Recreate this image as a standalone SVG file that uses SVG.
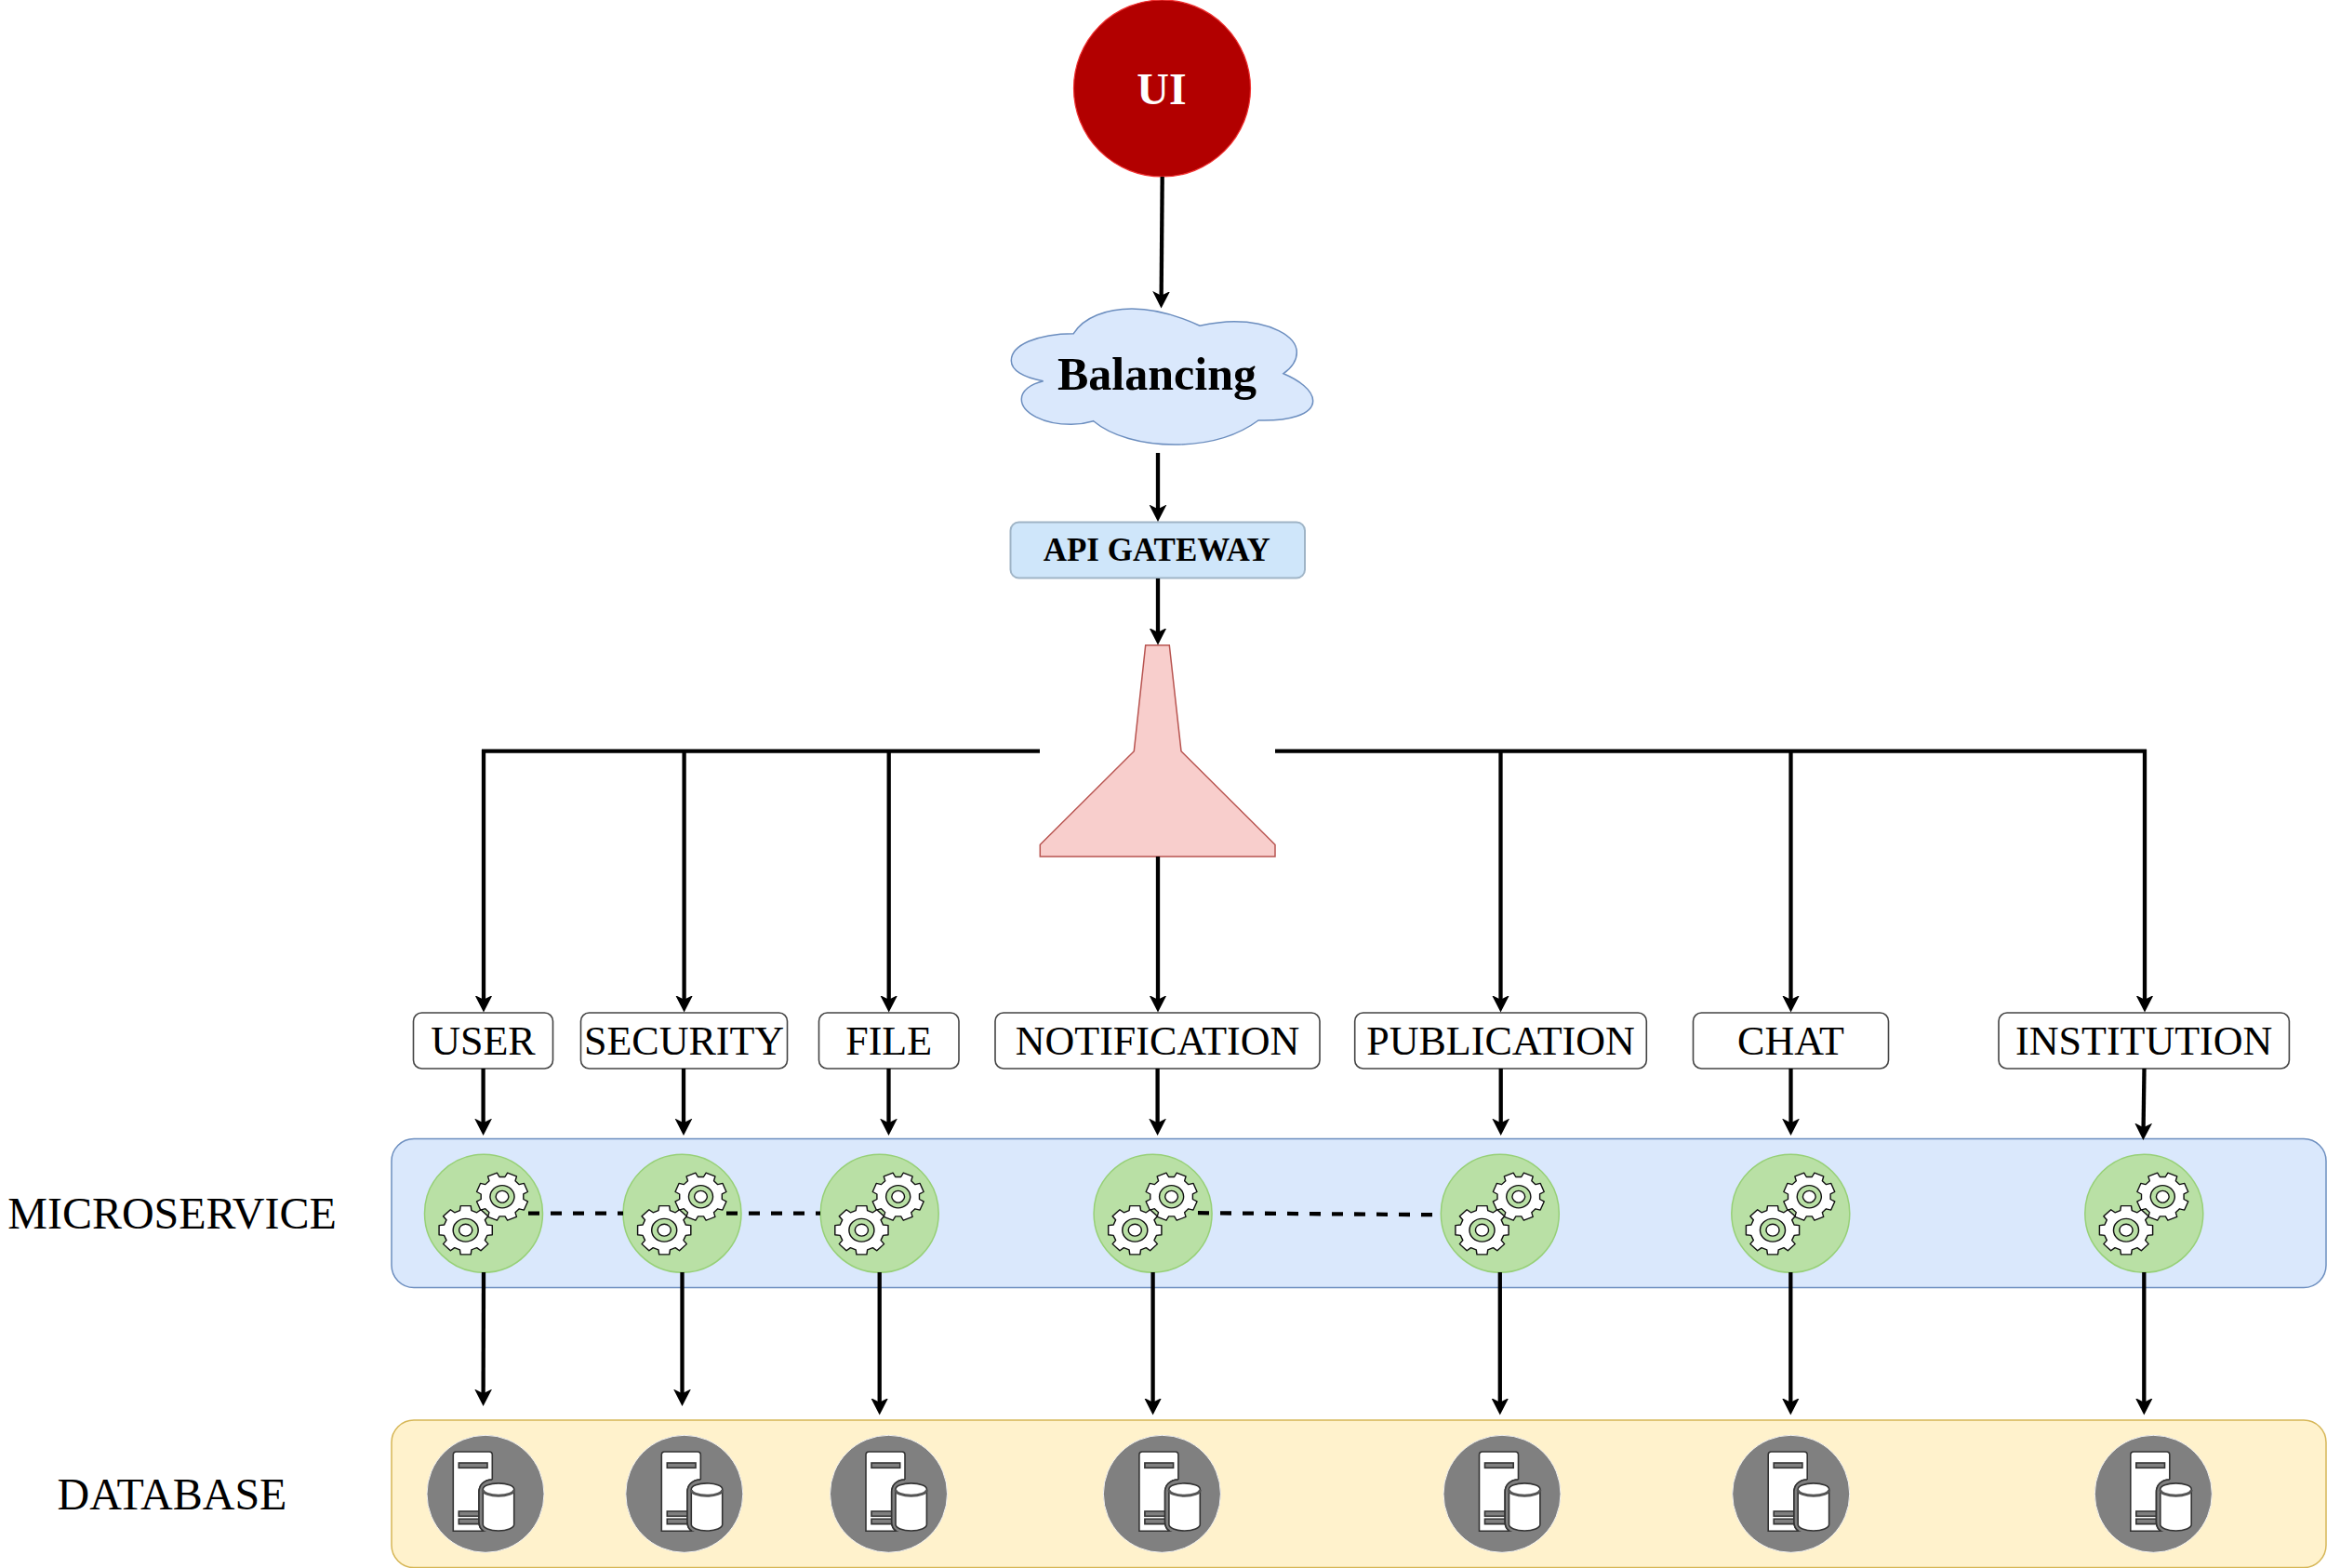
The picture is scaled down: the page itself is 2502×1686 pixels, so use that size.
<svg xmlns="http://www.w3.org/2000/svg" xmlns:xlink="http://www.w3.org/1999/xlink" width="2502" height="1686" viewBox="0 0 2502 1686">
<style>
text{font-family:"Liberation Serif","Times New Roman",serif;text-anchor:middle;fill:#000}
.svc{font-size:44px}
.side{font-size:48px}
.bold{font-weight:bold}
.box{fill:#fff;stroke:#444;stroke-width:1.6}
.edge{fill:none;stroke:#000;stroke-width:4.3;marker-end:url(#arrow)}
.plain{fill:none;stroke:#000;stroke-width:4.3}
.dash{fill:none;stroke:#000;stroke-width:4.3;stroke-dasharray:12 12}
.g-body{fill:#fff;stroke:#111;stroke-width:1.4;stroke-linejoin:round}
.g-ring{fill:#b9e0a5;stroke:#111;stroke-width:1.4}
.ink{stroke:#333;stroke-width:1.6}
.disc{fill:#808080;stroke:#f2f2f2;stroke-width:1}
</style>
<defs>
<marker id="arrow" markerUnits="userSpaceOnUse" markerWidth="21" markerHeight="21" refX="10" refY="10" orient="auto" viewBox="0 0 21 20">
<path d="M18,10 L-0.5,0.5 L4.2,10 L-0.5,19.5 Z" fill="#000"/>
</marker>
<g id="gear">
<path class="g-body" d="M27.5,-5.3L27.5,5.3L22.2,6L19.9,11.5L23.2,15.7L15.7,23.2L11.5,19.9L6,22.2L5.3,27.5L-5.3,27.5L-6,22.2L-11.5,19.9L-15.7,23.2L-23.2,15.7L-19.9,11.5L-22.2,6L-27.5,5.3L-27.5,-5.3L-22.2,-6L-19.9,-11.5L-23.2,-15.7L-15.7,-23.2L-11.5,-19.9L-6,-22.2L-5.3,-27.5L5.3,-27.5L6,-22.2L11.5,-19.9L15.7,-23.2L23.2,-15.7L19.9,-11.5L22.2,-6Z"/>
<circle class="g-ring" r="13"/>
<circle class="g-body" r="6.8"/>
</g>
<g id="ms-icon">
<circle r="63.5" fill="#b9e0a5" stroke="#97d077" stroke-width="1.5"/>
<use xlink:href="#gear" href="#gear" transform="translate(20,-18) scale(1,0.93) rotate(22.5)"/>
<use xlink:href="#gear" href="#gear" transform="translate(-19.3,18) scale(1.04,0.95)"/>
</g>
<g id="db-server">
<path class="ink" fill="#fff" d="M-34.7,40 V-42 Q-34.7,-45.3 -31.4,-45.3 H4 Q7.3,-45.3 7.3,-42 V-15.3 C-2,-15.3 -7,-9 -7,-2 V30 Q-7,37 -2,40 Z"/>
<rect class="ink" fill="#808080" x="-28.7" y="-33.3" width="30.7" height="5.3"/>
<path class="ink" fill="#808080" d="M-28.7,18.7 H-7 V24 H-28.7 Z M-28.7,27 H-7 V32.3 H-28.7 Z"/>
<path d="M7.3,-15.3 C-2,-15.3 -7,-9 -7,-2 V30 Q-7,37 -2,40 H14 V-15.3 Z" fill="#808080"/>
<path d="M7.3,-15.3 C-2,-15.3 -7,-9 -7,-2 V30 Q-7,37 -2,40" fill="none" stroke="#333" stroke-width="1.6"/>
<path class="ink" fill="#fff" d="M-2.7,-5 V33 A16.7,6.7 0 0 0 30.7,33 V-5 A16.7,6.4 0 0 0 -2.7,-5 Z"/>
<path d="M-2.7,-4.4 A16.7,6.4 0 0 0 30.7,-4.4" fill="none" stroke="#555" stroke-width="3"/>
</g>
</defs>

<g id="ui"><circle cx="1249.5" cy="95" r="95" fill="#b20000" stroke="#f03030" stroke-width="1.2"/><text class="bold" x="1249" y="111.7" font-size="48" style="fill:#fff">UI</text></g>

<g transform="translate(0,1)">
<g id="band-microservice"><rect x="421" y="1223.5" width="2080" height="160" rx="24" fill="#dae8fc" stroke="#6c8ebf" stroke-width="1.5"/></g>
<g id="band-database"><rect x="421" y="1526" width="2080" height="158.6" rx="24" fill="#fff2cc" stroke="#d6b656" stroke-width="1.5"/></g>

<g id="balancing"><path d="M1154.3,357.7 C1165,340 1190,331 1217,331 C1245,331 1270,340 1290,349.3 C1305,346 1315,344.7 1327,344.7 C1365,344.7 1394.3,360 1394.3,378 C1394.3,388 1388,395 1380,400.7 C1395,407 1411.7,418 1411.7,430 C1411.7,445 1385,452 1353,451 C1330,468 1298,477 1263,477 C1228,477 1195,468 1175.7,451.7 C1168,454 1160,455.3 1151.7,455.3 C1122,455.3 1098.3,443 1098.3,428.3 C1098.3,419 1108,412 1121.7,408.7 C1100,405 1087.3,397 1087.3,386.7 C1087.3,370 1115,358 1154.3,357.7 Z" fill="#dae8fc" stroke="#6c8ebf" stroke-width="1.5"/><text class="bold" x="1244" y="417.8" font-size="50">Balancing</text></g>
<g id="api-gateway"><rect x="1086.5" y="560.5" width="316.5" height="60" rx="9" fill="#cfe6fa" stroke="#9fb4c6" stroke-width="2"/><text class="bold" x="1243.7" y="601.7" font-size="35">API GATEWAY</text></g>
<g id="funnel"><path d="M1231.7,692.7 H1257.3 L1270,806.7 L1371,907.3 V920 H1118.3 V907.3 L1219.3,806.7 Z" fill="#f8cecc" stroke="#b85450" stroke-width="1.5"/></g>

<g id="svc-user"><rect class="box" x="444.5" y="1088" width="150" height="60" rx="9"/><text class="svc" x="519.5" y="1132.7">USER</text></g>
<g id="svc-security"><rect class="box" x="624.5" y="1088" width="222" height="60" rx="9"/><text class="svc" x="735.5" y="1132.7">SECURITY</text></g>
<g id="svc-file"><rect class="box" x="880.5" y="1088" width="150.5" height="60" rx="9"/><text class="svc" x="955.7" y="1132.7">FILE</text></g>
<g id="svc-notification"><rect class="box" x="1070" y="1088" width="349" height="60" rx="9"/><text class="svc" x="1244.5" y="1132.7">NOTIFICATION</text></g>
<g id="svc-publication"><rect class="box" x="1456.7" y="1088" width="313.6" height="60" rx="9"/><text class="svc" x="1613.5" y="1132.7">PUBLICATION</text></g>
<g id="svc-chat"><rect class="box" x="1820.5" y="1088" width="210" height="60" rx="9"/><text class="svc" x="1925.5" y="1132.7">CHAT</text></g>
<g id="svc-institution"><rect class="box" x="2149" y="1088" width="312.4" height="60" rx="9"/><text class="svc" x="2305.2" y="1132.7">INSTITUTION</text></g>

<g id="label-microservice"><text class="side" x="185" y="1320">MICROSERVICE</text></g>
<g id="label-database"><text class="side" x="185" y="1622">DATABASE</text></g>

<g id="ms-user"><use xlink:href="#ms-icon" href="#ms-icon" transform="translate(520,1303.7)"/></g>
<g id="ms-security"><use xlink:href="#ms-icon" href="#ms-icon" transform="translate(733.5,1303.7)"/></g>
<g id="ms-file"><use xlink:href="#ms-icon" href="#ms-icon" transform="translate(945.7,1303.7)"/></g>
<g id="ms-notification"><use xlink:href="#ms-icon" href="#ms-icon" transform="translate(1239.6,1303.7)"/></g>
<g id="ms-publication"><use xlink:href="#ms-icon" href="#ms-icon" transform="translate(1612.8,1303.7)"/></g>
<g id="ms-chat"><use xlink:href="#ms-icon" href="#ms-icon" transform="translate(1925.3,1303.7)"/></g>
<g id="ms-institution"><use xlink:href="#ms-icon" href="#ms-icon" transform="translate(2305.3,1303.7)"/></g>

<g id="db-user"><circle class="disc" cx="522" cy="1605.3" r="63"/><use xlink:href="#db-server" href="#db-server" transform="translate(522,1605.3)"/></g>
<g id="db-security"><circle class="disc" cx="735.8" cy="1605.3" r="63"/><use xlink:href="#db-server" href="#db-server" transform="translate(746,1605.3)"/></g>
<g id="db-file"><circle class="disc" cx="955.5" cy="1605.3" r="63"/><use xlink:href="#db-server" href="#db-server" transform="translate(965.7,1605.3)"/></g>
<g id="db-notification"><circle class="disc" cx="1249.4" cy="1605.3" r="63"/><use xlink:href="#db-server" href="#db-server" transform="translate(1259.6,1605.3)"/></g>
<g id="db-publication"><circle class="disc" cx="1615" cy="1605.3" r="63"/><use xlink:href="#db-server" href="#db-server" transform="translate(1625.2,1605.3)"/></g>
<g id="db-chat"><circle class="disc" cx="1925.7" cy="1605.3" r="63"/><use xlink:href="#db-server" href="#db-server" transform="translate(1935.9,1605.3)"/></g>
<g id="db-institution"><circle class="disc" cx="2315.3" cy="1605.3" r="63"/><use xlink:href="#db-server" href="#db-server" transform="translate(2325.5,1605.3)"/></g>
</g>

<g id="connectors">
<path class="edge" d="M1249.7,190 L1248.6,323.5"/>
<g transform="translate(0,1)">
<path class="edge" d="M1245,486 V552"/>
<path class="edge" d="M1245,621 V684.5"/>
<path class="plain" d="M1118,806.7 L518,806.7"/>
<path class="plain" d="M1371,806.7 L2308,806.7"/>
<path class="edge" d="M520,805 V1079.5"/>
<path class="edge" d="M735.6,807 V1079.5"/>
<path class="edge" d="M955.7,807 V1079.5"/>
<path class="edge" d="M1245,920 V1079.5"/>
<path class="edge" d="M1613.5,807 V1079.5"/>
<path class="edge" d="M1925.5,807 V1079.5"/>
<path class="edge" d="M2306,805 V1079.5"/>
<path class="edge" d="M519.6,1148 V1212"/>
<path class="edge" d="M735,1148 V1212"/>
<path class="edge" d="M955.5,1148 V1212"/>
<path class="edge" d="M1244.6,1148 V1212"/>
<path class="edge" d="M1613.7,1148 V1212"/>
<path class="edge" d="M1925.5,1148 V1212"/>
<path class="edge" d="M2305.5,1148 L2304.5,1217"/>
<path class="dash" d="M568,1303.7 H670"/>
<path class="dash" d="M781,1303.7 H882"/>
<path class="dash" d="M1288,1303.2 L1542,1305.2"/>
<path class="edge" d="M520,1367 L519.6,1503"/>
<path class="edge" d="M733.5,1367 V1503"/>
<path class="edge" d="M945.7,1367 V1512.5"/>
<path class="edge" d="M1239.6,1367 V1512.5"/>
<path class="edge" d="M1612.8,1367 V1512.5"/>
<path class="edge" d="M1925.3,1367 V1512.5"/>
<path class="edge" d="M2305.3,1367 V1512.5"/>
</g>
</g>
</svg>
